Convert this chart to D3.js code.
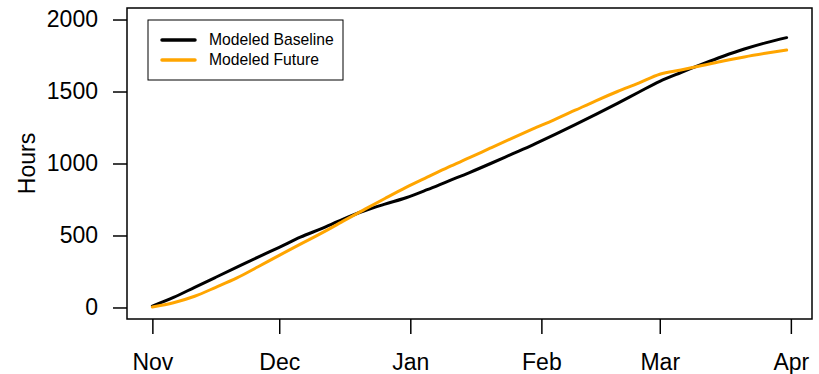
<!DOCTYPE html>
<html>
<head>
<meta charset="utf-8">
<script src="https://cdn.jsdelivr.net/npm/d3@7"></script>
<style>
  html, body { margin: 0; padding: 0; background: #fff; }
  svg { display: block; font-family: "Liberation Sans", Arial, Helvetica, sans-serif; }
</style>
</head>
<body>
<svg id="chart" width="819" height="374"></svg>
<script>
// Cumulative hours over the season, sampled every 5 days from 1 November
const seasonStart = "2000-11-01";
const dayOffsets = [0, 5, 10, 15, 20, 25, 30, 35, 40, 45, 50, 55, 60, 65, 70, 75,
  80, 85, 90, 95, 100, 105, 110, 115, 120, 125, 130, 135, 140, 145, 150];
const baselineHours = [10, 70, 140, 210, 280, 350, 418, 488, 548, 612, 670, 718, 762, 818, 878, 937,
  1000, 1065, 1130, 1199, 1270, 1343, 1418, 1495, 1571, 1632, 1690, 1745, 1795, 1838, 1874];
const futureHours = [3, 33, 78, 140, 205, 283, 362, 440, 516, 598, 678, 757, 834, 905, 975, 1040,
  1108, 1175, 1240, 1303, 1370, 1437, 1500, 1558, 1620, 1650, 1680, 1712, 1740, 1765, 1788];

const seriesNames = ["Modeled Baseline", "Modeled Future"];
const seriesColors = ["#000000", "#FFA500"];

const monthTickDates = ["2000-11-01", "2000-12-01", "2001-01-01", "2001-02-01", "2001-03-01", "2001-04-01"];
const monthTickLabels = ["Nov", "Dec", "Jan", "Feb", "Mar", "Apr"];
const hourTicks = [0, 500, 1000, 1500, 2000];
const hourLimits = [0, 2000];

const parse = d3.utcParse("%Y-%m-%d");
const start = parse(seasonStart);
const dates = dayOffsets.map(d => d3.utcDay.offset(start, d));

// Plot region, with 4% padding around the data range on each axis
const plot = { left: 127, right: 812, top: 8, bottom: 319 };
const xPad = (dayOffsets[dayOffsets.length - 1] - dayOffsets[0]) * 0.04;
const x = d3.scaleUtc()
  .domain([d3.utcDay.offset(dates[0], -xPad), d3.utcDay.offset(dates[dates.length - 1], xPad)])
  .range([plot.left, plot.right]);
const yPad = (hourLimits[1] - hourLimits[0]) * 0.04;
const y = d3.scaleLinear()
  .domain([hourLimits[0] - yPad, hourLimits[1] + yPad])
  .range([plot.bottom, plot.top]);

const svg = d3.select("#chart");

// Data lines
const series = [baselineHours, futureHours];
const line = d3.line()
  .x((d, i) => x(dates[i]))
  .y(d => y(d))
  .curve(d3.curveMonotoneX);

series.forEach((vals, k) => {
  svg.append("path")
    .datum(vals)
    .attr("fill", "none")
    .attr("stroke", seriesColors[k])
    .attr("stroke-width", 3)
    .attr("stroke-linecap", "round")
    .attr("stroke-linejoin", "round")
    .attr("d", line);
});

// Plot box
svg.append("rect")
  .attr("x", plot.left).attr("y", plot.top)
  .attr("width", plot.right - plot.left).attr("height", plot.bottom - plot.top)
  .attr("fill", "none").attr("stroke", "#000").attr("stroke-width", 1.5);

// Y axis
const yAxis = d3.axisLeft(y).tickValues(hourTicks).tickSize(14).tickPadding(15).tickFormat(d3.format("d"));
const gy = svg.append("g").attr("transform", `translate(${plot.left},0)`).call(yAxis);
gy.select(".domain").remove();
gy.selectAll(".tick line").attr("stroke", "#000").attr("stroke-width", 1.5);
gy.selectAll(".tick text").attr("font-size", 23).attr("fill", "#000")
  .attr("font-family", "'Liberation Sans', Arial, sans-serif");

// X axis
const xAxis = d3.axisBottom(x)
  .tickValues(monthTickDates.map(parse))
  .tickSize(15)
  .tickFormat((d, i) => monthTickLabels[i]);
const gx = svg.append("g").attr("transform", `translate(0,${plot.bottom})`).call(xAxis);
gx.select(".domain").remove();
gx.selectAll(".tick line").attr("stroke", "#000").attr("stroke-width", 1.5);
gx.selectAll(".tick text").attr("font-size", 23).attr("fill", "#000")
  .attr("font-family", "'Liberation Sans', Arial, sans-serif")
  .attr("dy", null).attr("y", 51);

// Y axis title
svg.append("text")
  .attr("transform", `translate(35,${(y(hourLimits[0]) + y(hourLimits[1])) / 2}) rotate(-90)`)
  .attr("text-anchor", "middle")
  .attr("font-size", 23)
  .text("Hours");

// Legend
const legend = svg.append("g");
legend.append("rect")
  .attr("x", 148).attr("y", 20).attr("width", 195).attr("height", 60)
  .attr("fill", "#fff").attr("stroke", "#000").attr("stroke-width", 1);
seriesNames.forEach((name, k) => {
  const ly = 40 + k * 20;
  legend.append("line")
    .attr("x1", 162).attr("x2", 195).attr("y1", ly).attr("y2", ly)
    .attr("stroke", seriesColors[k]).attr("stroke-width", 3.5).attr("stroke-linecap", "round");
  legend.append("text")
    .attr("x", 209).attr("y", ly).attr("dy", "0.35em")
    .attr("font-size", 15.7)
    .text(name);
});
</script>
</body>
</html>
